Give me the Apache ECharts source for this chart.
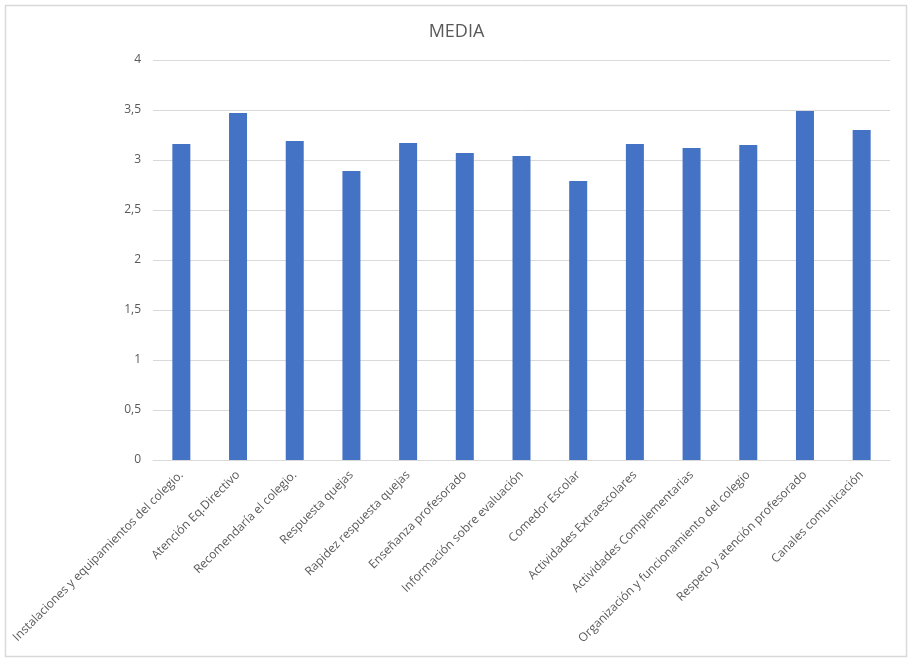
<!DOCTYPE html>
<html>
<head>
<meta charset="utf-8">
<script src="https://cdn.jsdelivr.net/npm/echarts@6/dist/echarts.min.js"></script>
<style>
  html, body { margin: 0; padding: 0; background: #fff; }
  #chart { width: 913px; height: 664px; }
</style>
</head>
<body>
<div id="chart"></div>
<script>
const categories = [
  'Instalaciones y equipamientos del colegio.',
  'Atención Eq.Directivo',
  'Recomendaría el colegio.',
  'Respuesta quejas',
  'Rapidez respuesta quejas',
  'Enseñanza profesorado',
  'Información sobre evaluación',
  'Comedor Escolar',
  'Actividades Extraescolares',
  'Actividades Complementarias',
  'Organización y funcionamiento del colegio',
  'Respeto y atención profesorado',
  'Canales comunicación'
]
const media = [3.16, 3.47, 3.19, 2.89, 3.17, 3.07, 3.04, 2.79, 3.16, 3.12, 3.15, 3.49, 3.30]

const font = "'Open Sans', 'Noto Sans', sans-serif"

const chart = echarts.init(document.getElementById('chart'))
chart.setOption({
  animation: false,
  title: {
    text: 'MEDIA',
    left: 'center',
    top: 18,
    textStyle: { color: '#595959', fontSize: 18, fontWeight: 'normal', fontFamily: font }
  },
  graphic: [{
    type: 'rect',
    shape: { x: 5.5, y: 5.5, width: 901, height: 651 },
    style: { fill: 'none', stroke: '#d9d9d9', lineWidth: 1.5 },
    silent: true
  }],
  grid: { left: 153, right: 23, top: 60, bottom: 204 },
  xAxis: {
    type: 'category',
    data: categories,
    axisLine: { lineStyle: { color: '#d9d9d9' } },
    axisTick: { show: false },
    axisLabel: {
      rotate: 45,
      interval: 0,
      margin: 13,
      color: '#595959',
      fontSize: 12,
      fontFamily: font
    }
  },
  yAxis: {
    type: 'value',
    min: 0,
    max: 4,
    interval: 0.5,
    axisLine: { show: false },
    axisTick: { show: false },
    axisLabel: {
      color: '#595959',
      fontSize: 12,
      fontFamily: font,
      margin: 12,
      formatter: v => String(v).replace('.', ',')
    },
    splitLine: { lineStyle: { color: '#d9d9d9' } }
  },
  series: [{
    type: 'bar',
    data: media,
    barWidth: 18,
    itemStyle: { color: '#4472C4' }
  }]
})
</script>
</body>
</html>
